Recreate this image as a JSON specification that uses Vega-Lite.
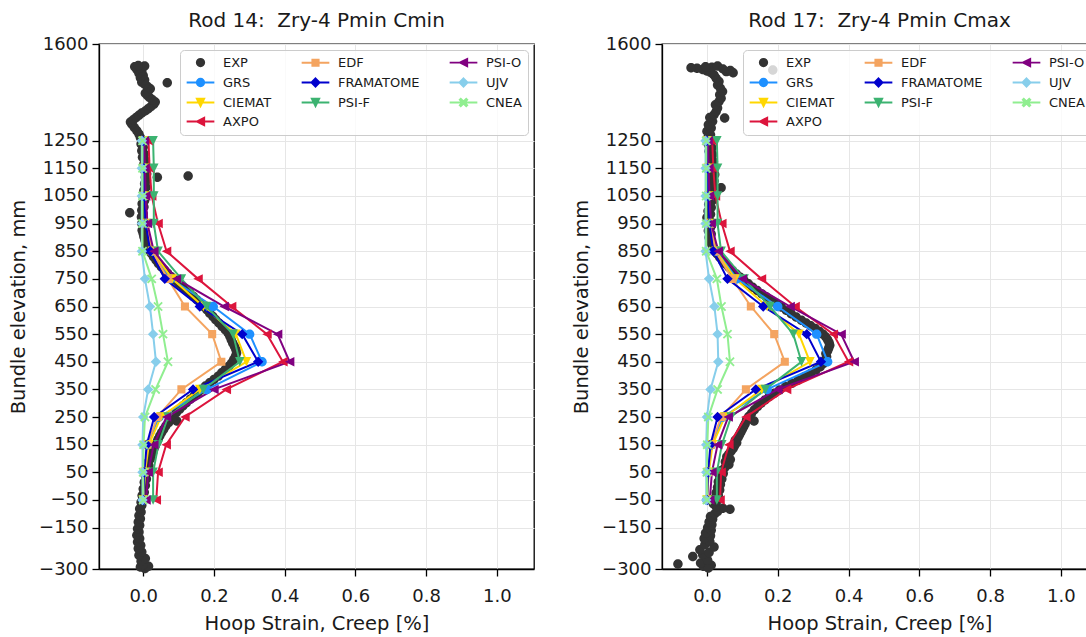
{
"$schema": "https://vega.github.io/schema/vega-lite/v6.json",
"background": "white",
"padding": {"left": 7, "top": 10, "right": 0, "bottom": 0},
"spacing": 35,
"datasets": {
"rod14_model": [
{"model":"GRS","elev":-50,"strain":0.0},{"model":"GRS","elev":50,"strain":0.004},{"model":"GRS","elev":150,"strain":0.012},{"model":"GRS","elev":250,"strain":0.045},{"model":"GRS","elev":350,"strain":0.18},{"model":"GRS","elev":450,"strain":0.336},{"model":"GRS","elev":550,"strain":0.301},{"model":"GRS","elev":650,"strain":0.198},{"model":"GRS","elev":750,"strain":0.078},{"model":"GRS","elev":850,"strain":0.025},{"model":"GRS","elev":950,"strain":0.008},{"model":"GRS","elev":1050,"strain":0.004},{"model":"GRS","elev":1150,"strain":0.002},{"model":"GRS","elev":1250,"strain":0.0},
{"model":"CIEMAT","elev":-50,"strain":0.0},{"model":"CIEMAT","elev":50,"strain":0.005},{"model":"CIEMAT","elev":150,"strain":0.016},{"model":"CIEMAT","elev":250,"strain":0.05},{"model":"CIEMAT","elev":350,"strain":0.16},{"model":"CIEMAT","elev":450,"strain":0.292},{"model":"CIEMAT","elev":550,"strain":0.262},{"model":"CIEMAT","elev":650,"strain":0.17},{"model":"CIEMAT","elev":750,"strain":0.082},{"model":"CIEMAT","elev":850,"strain":0.026},{"model":"CIEMAT","elev":950,"strain":0.01},{"model":"CIEMAT","elev":1050,"strain":0.005},{"model":"CIEMAT","elev":1150,"strain":0.003},{"model":"CIEMAT","elev":1250,"strain":0.001},
{"model":"AXPO","elev":-50,"strain":0.037},{"model":"AXPO","elev":50,"strain":0.042},{"model":"AXPO","elev":150,"strain":0.065},{"model":"AXPO","elev":250,"strain":0.118},{"model":"AXPO","elev":350,"strain":0.235},{"model":"AXPO","elev":450,"strain":0.395},{"model":"AXPO","elev":550,"strain":0.35},{"model":"AXPO","elev":650,"strain":0.25},{"model":"AXPO","elev":750,"strain":0.155},{"model":"AXPO","elev":850,"strain":0.066},{"model":"AXPO","elev":950,"strain":0.042},{"model":"AXPO","elev":1050,"strain":0.024},{"model":"AXPO","elev":1150,"strain":0.018},{"model":"AXPO","elev":1250,"strain":0.015},
{"model":"EDF","elev":-50,"strain":0.0},{"model":"EDF","elev":50,"strain":0.004},{"model":"EDF","elev":150,"strain":0.012},{"model":"EDF","elev":250,"strain":0.04},{"model":"EDF","elev":350,"strain":0.108},{"model":"EDF","elev":450,"strain":0.221},{"model":"EDF","elev":550,"strain":0.195},{"model":"EDF","elev":650,"strain":0.118},{"model":"EDF","elev":750,"strain":0.07},{"model":"EDF","elev":850,"strain":0.024},{"model":"EDF","elev":950,"strain":0.009},{"model":"EDF","elev":1050,"strain":0.004},{"model":"EDF","elev":1150,"strain":0.002},{"model":"EDF","elev":1250,"strain":0.0},
{"model":"FRAMATOME","elev":-50,"strain":0.0},{"model":"FRAMATOME","elev":50,"strain":0.003},{"model":"FRAMATOME","elev":150,"strain":0.01},{"model":"FRAMATOME","elev":250,"strain":0.031},{"model":"FRAMATOME","elev":350,"strain":0.141},{"model":"FRAMATOME","elev":450,"strain":0.325},{"model":"FRAMATOME","elev":550,"strain":0.28},{"model":"FRAMATOME","elev":650,"strain":0.16},{"model":"FRAMATOME","elev":750,"strain":0.061},{"model":"FRAMATOME","elev":850,"strain":0.02},{"model":"FRAMATOME","elev":950,"strain":0.007},{"model":"FRAMATOME","elev":1050,"strain":0.003},{"model":"FRAMATOME","elev":1150,"strain":0.002},{"model":"FRAMATOME","elev":1250,"strain":0.0},
{"model":"PSI-F","elev":-50,"strain":0.028},{"model":"PSI-F","elev":50,"strain":0.028},{"model":"PSI-F","elev":150,"strain":0.043},{"model":"PSI-F","elev":250,"strain":0.07},{"model":"PSI-F","elev":350,"strain":0.17},{"model":"PSI-F","elev":450,"strain":0.273},{"model":"PSI-F","elev":550,"strain":0.254},{"model":"PSI-F","elev":650,"strain":0.179},{"model":"PSI-F","elev":750,"strain":0.108},{"model":"PSI-F","elev":850,"strain":0.042},{"model":"PSI-F","elev":950,"strain":0.03},{"model":"PSI-F","elev":1050,"strain":0.03},{"model":"PSI-F","elev":1150,"strain":0.03},{"model":"PSI-F","elev":1250,"strain":0.028},
{"model":"PSI-O","elev":-50,"strain":0.008},{"model":"PSI-O","elev":50,"strain":0.014},{"model":"PSI-O","elev":150,"strain":0.03},{"model":"PSI-O","elev":250,"strain":0.066},{"model":"PSI-O","elev":350,"strain":0.2},{"model":"PSI-O","elev":450,"strain":0.414},{"model":"PSI-O","elev":550,"strain":0.38},{"model":"PSI-O","elev":650,"strain":0.229},{"model":"PSI-O","elev":750,"strain":0.094},{"model":"PSI-O","elev":850,"strain":0.03},{"model":"PSI-O","elev":950,"strain":0.012},{"model":"PSI-O","elev":1050,"strain":0.007},{"model":"PSI-O","elev":1150,"strain":0.005},{"model":"PSI-O","elev":1250,"strain":0.003},
{"model":"UJV","elev":-50,"strain":-0.002},{"model":"UJV","elev":50,"strain":-0.002},{"model":"UJV","elev":150,"strain":-0.002},{"model":"UJV","elev":250,"strain":0.0},{"model":"UJV","elev":350,"strain":0.014},{"model":"UJV","elev":450,"strain":0.036},{"model":"UJV","elev":550,"strain":0.028},{"model":"UJV","elev":650,"strain":0.019},{"model":"UJV","elev":750,"strain":0.005},{"model":"UJV","elev":850,"strain":-0.004},{"model":"UJV","elev":950,"strain":-0.004},{"model":"UJV","elev":1050,"strain":-0.004},{"model":"UJV","elev":1150,"strain":-0.004},{"model":"UJV","elev":1250,"strain":-0.004},
{"model":"CNEA","elev":-50,"strain":0.0},{"model":"CNEA","elev":50,"strain":0.0},{"model":"CNEA","elev":150,"strain":0.001},{"model":"CNEA","elev":250,"strain":0.005},{"model":"CNEA","elev":350,"strain":0.035},{"model":"CNEA","elev":450,"strain":0.07},{"model":"CNEA","elev":550,"strain":0.056},{"model":"CNEA","elev":650,"strain":0.042},{"model":"CNEA","elev":750,"strain":0.024},{"model":"CNEA","elev":850,"strain":-0.002},{"model":"CNEA","elev":950,"strain":-0.002},{"model":"CNEA","elev":1050,"strain":-0.002},{"model":"CNEA","elev":1150,"strain":-0.002},{"model":"CNEA","elev":1250,"strain":-0.002}
],
"rod17_model": [
{"model":"GRS","elev":-50,"strain":0.0},{"model":"GRS","elev":50,"strain":0.004},{"model":"GRS","elev":150,"strain":0.013},{"model":"GRS","elev":250,"strain":0.045},{"model":"GRS","elev":350,"strain":0.17},{"model":"GRS","elev":450,"strain":0.341},{"model":"GRS","elev":550,"strain":0.31},{"model":"GRS","elev":650,"strain":0.2},{"model":"GRS","elev":750,"strain":0.085},{"model":"GRS","elev":850,"strain":0.027},{"model":"GRS","elev":950,"strain":0.009},{"model":"GRS","elev":1050,"strain":0.004},{"model":"GRS","elev":1150,"strain":0.002},{"model":"GRS","elev":1250,"strain":0.0},
{"model":"CIEMAT","elev":-50,"strain":0.0},{"model":"CIEMAT","elev":50,"strain":0.005},{"model":"CIEMAT","elev":150,"strain":0.016},{"model":"CIEMAT","elev":250,"strain":0.05},{"model":"CIEMAT","elev":350,"strain":0.155},{"model":"CIEMAT","elev":450,"strain":0.291},{"model":"CIEMAT","elev":550,"strain":0.26},{"model":"CIEMAT","elev":650,"strain":0.17},{"model":"CIEMAT","elev":750,"strain":0.08},{"model":"CIEMAT","elev":850,"strain":0.026},{"model":"CIEMAT","elev":950,"strain":0.01},{"model":"CIEMAT","elev":1050,"strain":0.005},{"model":"CIEMAT","elev":1150,"strain":0.003},{"model":"CIEMAT","elev":1250,"strain":0.001},
{"model":"AXPO","elev":-50,"strain":0.037},{"model":"AXPO","elev":50,"strain":0.04},{"model":"AXPO","elev":150,"strain":0.062},{"model":"AXPO","elev":250,"strain":0.11},{"model":"AXPO","elev":350,"strain":0.225},{"model":"AXPO","elev":450,"strain":0.4},{"model":"AXPO","elev":550,"strain":0.357},{"model":"AXPO","elev":650,"strain":0.249},{"model":"AXPO","elev":750,"strain":0.154},{"model":"AXPO","elev":850,"strain":0.065},{"model":"AXPO","elev":950,"strain":0.042},{"model":"AXPO","elev":1050,"strain":0.024},{"model":"AXPO","elev":1150,"strain":0.018},{"model":"AXPO","elev":1250,"strain":0.015},
{"model":"EDF","elev":-50,"strain":0.0},{"model":"EDF","elev":50,"strain":0.004},{"model":"EDF","elev":150,"strain":0.012},{"model":"EDF","elev":250,"strain":0.04},{"model":"EDF","elev":350,"strain":0.11},{"model":"EDF","elev":450,"strain":0.22},{"model":"EDF","elev":550,"strain":0.19},{"model":"EDF","elev":650,"strain":0.124},{"model":"EDF","elev":750,"strain":0.072},{"model":"EDF","elev":850,"strain":0.024},{"model":"EDF","elev":950,"strain":0.009},{"model":"EDF","elev":1050,"strain":0.004},{"model":"EDF","elev":1150,"strain":0.002},{"model":"EDF","elev":1250,"strain":0.0},
{"model":"FRAMATOME","elev":-50,"strain":0.0},{"model":"FRAMATOME","elev":50,"strain":0.003},{"model":"FRAMATOME","elev":150,"strain":0.01},{"model":"FRAMATOME","elev":250,"strain":0.03},{"model":"FRAMATOME","elev":350,"strain":0.138},{"model":"FRAMATOME","elev":450,"strain":0.322},{"model":"FRAMATOME","elev":550,"strain":0.282},{"model":"FRAMATOME","elev":650,"strain":0.159},{"model":"FRAMATOME","elev":750,"strain":0.058},{"model":"FRAMATOME","elev":850,"strain":0.018},{"model":"FRAMATOME","elev":950,"strain":0.007},{"model":"FRAMATOME","elev":1050,"strain":0.003},{"model":"FRAMATOME","elev":1150,"strain":0.002},{"model":"FRAMATOME","elev":1250,"strain":0.0},
{"model":"PSI-F","elev":-50,"strain":0.028},{"model":"PSI-F","elev":50,"strain":0.028},{"model":"PSI-F","elev":150,"strain":0.042},{"model":"PSI-F","elev":250,"strain":0.068},{"model":"PSI-F","elev":350,"strain":0.165},{"model":"PSI-F","elev":450,"strain":0.267},{"model":"PSI-F","elev":550,"strain":0.244},{"model":"PSI-F","elev":650,"strain":0.178},{"model":"PSI-F","elev":750,"strain":0.105},{"model":"PSI-F","elev":850,"strain":0.04},{"model":"PSI-F","elev":950,"strain":0.03},{"model":"PSI-F","elev":1050,"strain":0.03},{"model":"PSI-F","elev":1150,"strain":0.03},{"model":"PSI-F","elev":1250,"strain":0.028},
{"model":"PSI-O","elev":-50,"strain":0.008},{"model":"PSI-O","elev":50,"strain":0.014},{"model":"PSI-O","elev":150,"strain":0.03},{"model":"PSI-O","elev":250,"strain":0.06},{"model":"PSI-O","elev":350,"strain":0.2},{"model":"PSI-O","elev":450,"strain":0.416},{"model":"PSI-O","elev":550,"strain":0.379},{"model":"PSI-O","elev":650,"strain":0.235},{"model":"PSI-O","elev":750,"strain":0.1},{"model":"PSI-O","elev":850,"strain":0.032},{"model":"PSI-O","elev":950,"strain":0.012},{"model":"PSI-O","elev":1050,"strain":0.007},{"model":"PSI-O","elev":1150,"strain":0.005},{"model":"PSI-O","elev":1250,"strain":0.003},
{"model":"UJV","elev":-50,"strain":-0.002},{"model":"UJV","elev":50,"strain":-0.002},{"model":"UJV","elev":150,"strain":-0.002},{"model":"UJV","elev":250,"strain":0.0},{"model":"UJV","elev":350,"strain":0.01},{"model":"UJV","elev":450,"strain":0.032},{"model":"UJV","elev":550,"strain":0.03},{"model":"UJV","elev":650,"strain":0.021},{"model":"UJV","elev":750,"strain":0.006},{"model":"UJV","elev":850,"strain":-0.004},{"model":"UJV","elev":950,"strain":-0.004},{"model":"UJV","elev":1050,"strain":-0.004},{"model":"UJV","elev":1150,"strain":-0.004},{"model":"UJV","elev":1250,"strain":-0.004},
{"model":"CNEA","elev":-50,"strain":0.0},{"model":"CNEA","elev":50,"strain":0.0},{"model":"CNEA","elev":150,"strain":0.001},{"model":"CNEA","elev":250,"strain":0.004},{"model":"CNEA","elev":350,"strain":0.03},{"model":"CNEA","elev":450,"strain":0.065},{"model":"CNEA","elev":550,"strain":0.058},{"model":"CNEA","elev":650,"strain":0.041},{"model":"CNEA","elev":750,"strain":0.028},{"model":"CNEA","elev":850,"strain":-0.002},{"model":"CNEA","elev":950,"strain":-0.002},{"model":"CNEA","elev":1050,"strain":-0.002},{"model":"CNEA","elev":1150,"strain":-0.002},{"model":"CNEA","elev":1250,"strain":-0.002}
],
"rod14_exp": [
{"model":"EXP","elev":-298,"strain":0.005},{"model":"EXP","elev":-293,"strain":-0.008},{"model":"EXP","elev":-290,"strain":0.015},{"model":"EXP","elev":-284,"strain":0.0},{"model":"EXP","elev":-272,"strain":-0.006},{"model":"EXP","elev":-262,"strain":0.006},{"model":"EXP","elev":-250,"strain":-0.012},{"model":"EXP","elev":-238,"strain":-0.004},{"model":"EXP","elev":-226,"strain":-0.014},{"model":"EXP","elev":-214,"strain":-0.007},{"model":"EXP","elev":-202,"strain":-0.016},{"model":"EXP","elev":-190,"strain":-0.01},{"model":"EXP","elev":-178,"strain":-0.018},{"model":"EXP","elev":-166,"strain":-0.012},{"model":"EXP","elev":-154,"strain":-0.016},{"model":"EXP","elev":-142,"strain":-0.01},{"model":"EXP","elev":-130,"strain":-0.014},{"model":"EXP","elev":-118,"strain":-0.008},{"model":"EXP","elev":-106,"strain":-0.012},{"model":"EXP","elev":-94,"strain":-0.006},{"model":"EXP","elev":-82,"strain":-0.01},{"model":"EXP","elev":-70,"strain":-0.004},{"model":"EXP","elev":-58,"strain":-0.006},{"model":"EXP","elev":-46,"strain":0.0},{"model":"EXP","elev":-34,"strain":-0.003},{"model":"EXP","elev":-22,"strain":0.003},{"model":"EXP","elev":-10,"strain":0.0},{"model":"EXP","elev":2,"strain":0.006},{"model":"EXP","elev":14,"strain":0.003},{"model":"EXP","elev":26,"strain":0.009},{"model":"EXP","elev":38,"strain":0.006},{"model":"EXP","elev":50,"strain":0.012},{"model":"EXP","elev":62,"strain":0.01},{"model":"EXP","elev":74,"strain":0.016},{"model":"EXP","elev":86,"strain":0.014},{"model":"EXP","elev":98,"strain":0.02},{"model":"EXP","elev":110,"strain":0.022},{"model":"EXP","elev":122,"strain":0.027},{"model":"EXP","elev":134,"strain":0.03},{"model":"EXP","elev":146,"strain":0.034},{"model":"EXP","elev":158,"strain":0.038},{"model":"EXP","elev":170,"strain":0.042},{"model":"EXP","elev":182,"strain":0.047},{"model":"EXP","elev":194,"strain":0.052},{"model":"EXP","elev":206,"strain":0.058},{"model":"EXP","elev":218,"strain":0.064},{"model":"EXP","elev":230,"strain":0.072},{"model":"EXP","elev":236,"strain":0.095},{"model":"EXP","elev":242,"strain":0.078},{"model":"EXP","elev":254,"strain":0.086},{"model":"EXP","elev":266,"strain":0.094},{"model":"EXP","elev":278,"strain":0.103},{"model":"EXP","elev":290,"strain":0.112},{"model":"EXP","elev":302,"strain":0.122},{"model":"EXP","elev":314,"strain":0.133},{"model":"EXP","elev":326,"strain":0.144},{"model":"EXP","elev":338,"strain":0.155},{"model":"EXP","elev":350,"strain":0.165},{"model":"EXP","elev":362,"strain":0.176},{"model":"EXP","elev":374,"strain":0.188},{"model":"EXP","elev":386,"strain":0.2},{"model":"EXP","elev":398,"strain":0.212},{"model":"EXP","elev":410,"strain":0.222},{"model":"EXP","elev":422,"strain":0.232},{"model":"EXP","elev":434,"strain":0.242},{"model":"EXP","elev":446,"strain":0.25},{"model":"EXP","elev":458,"strain":0.256},{"model":"EXP","elev":470,"strain":0.261},{"model":"EXP","elev":482,"strain":0.264},{"model":"EXP","elev":494,"strain":0.262},{"model":"EXP","elev":506,"strain":0.258},{"model":"EXP","elev":518,"strain":0.253},{"model":"EXP","elev":530,"strain":0.249},{"model":"EXP","elev":542,"strain":0.245},{"model":"EXP","elev":554,"strain":0.24},{"model":"EXP","elev":566,"strain":0.232},{"model":"EXP","elev":578,"strain":0.223},{"model":"EXP","elev":590,"strain":0.214},{"model":"EXP","elev":602,"strain":0.205},{"model":"EXP","elev":614,"strain":0.197},{"model":"EXP","elev":626,"strain":0.188},{"model":"EXP","elev":638,"strain":0.18},{"model":"EXP","elev":650,"strain":0.171},{"model":"EXP","elev":662,"strain":0.162},{"model":"EXP","elev":674,"strain":0.152},{"model":"EXP","elev":686,"strain":0.142},{"model":"EXP","elev":698,"strain":0.132},{"model":"EXP","elev":710,"strain":0.122},{"model":"EXP","elev":722,"strain":0.111},{"model":"EXP","elev":734,"strain":0.1},{"model":"EXP","elev":746,"strain":0.089},{"model":"EXP","elev":758,"strain":0.079},{"model":"EXP","elev":770,"strain":0.069},{"model":"EXP","elev":782,"strain":0.06},{"model":"EXP","elev":794,"strain":0.051},{"model":"EXP","elev":806,"strain":0.043},{"model":"EXP","elev":818,"strain":0.036},{"model":"EXP","elev":830,"strain":0.029},{"model":"EXP","elev":842,"strain":0.023},{"model":"EXP","elev":854,"strain":0.017},{"model":"EXP","elev":866,"strain":0.012},{"model":"EXP","elev":878,"strain":0.008},{"model":"EXP","elev":890,"strain":0.005},{"model":"EXP","elev":902,"strain":0.002},{"model":"EXP","elev":914,"strain":0.0},{"model":"EXP","elev":926,"strain":-0.003},{"model":"EXP","elev":938,"strain":0.001},{"model":"EXP","elev":950,"strain":-0.004},{"model":"EXP","elev":962,"strain":0.0},{"model":"EXP","elev":974,"strain":-0.005},{"model":"EXP","elev":989,"strain":-0.038},{"model":"EXP","elev":986,"strain":0.0},{"model":"EXP","elev":998,"strain":-0.004},{"model":"EXP","elev":1010,"strain":0.002},{"model":"EXP","elev":1022,"strain":-0.003},{"model":"EXP","elev":1034,"strain":0.004},{"model":"EXP","elev":1046,"strain":0.0},{"model":"EXP","elev":1058,"strain":0.006},{"model":"EXP","elev":1070,"strain":0.002},{"model":"EXP","elev":1082,"strain":0.008},{"model":"EXP","elev":1094,"strain":0.004},{"model":"EXP","elev":1106,"strain":0.009},{"model":"EXP","elev":1118,"strain":0.04},{"model":"EXP","elev":1122,"strain":0.127},{"model":"EXP","elev":1118,"strain":0.006},{"model":"EXP","elev":1130,"strain":0.01},{"model":"EXP","elev":1142,"strain":0.004},{"model":"EXP","elev":1154,"strain":0.008},{"model":"EXP","elev":1166,"strain":0.002},{"model":"EXP","elev":1178,"strain":0.006},{"model":"EXP","elev":1190,"strain":-0.002},{"model":"EXP","elev":1202,"strain":0.003},{"model":"EXP","elev":1214,"strain":-0.004},{"model":"EXP","elev":1226,"strain":0.0},{"model":"EXP","elev":1238,"strain":-0.006},{"model":"EXP","elev":1250,"strain":-0.002},{"model":"EXP","elev":1262,"strain":-0.008},{"model":"EXP","elev":1274,"strain":-0.012},{"model":"EXP","elev":1286,"strain":-0.018},{"model":"EXP","elev":1298,"strain":-0.025},{"model":"EXP","elev":1310,"strain":-0.032},{"model":"EXP","elev":1318,"strain":-0.036},{"model":"EXP","elev":1326,"strain":-0.028},{"model":"EXP","elev":1334,"strain":-0.02},{"model":"EXP","elev":1342,"strain":-0.012},{"model":"EXP","elev":1350,"strain":-0.004},{"model":"EXP","elev":1358,"strain":0.006},{"model":"EXP","elev":1366,"strain":0.014},{"model":"EXP","elev":1374,"strain":0.022},{"model":"EXP","elev":1382,"strain":0.03},{"model":"EXP","elev":1390,"strain":0.034},{"model":"EXP","elev":1398,"strain":0.026},{"model":"EXP","elev":1406,"strain":0.018},{"model":"EXP","elev":1414,"strain":0.012},{"model":"EXP","elev":1422,"strain":0.006},{"model":"EXP","elev":1430,"strain":0.014},{"model":"EXP","elev":1438,"strain":0.02},{"model":"EXP","elev":1446,"strain":0.012},{"model":"EXP","elev":1454,"strain":0.004},{"model":"EXP","elev":1460,"strain":0.068},{"model":"EXP","elev":1462,"strain":-0.004},{"model":"EXP","elev":1470,"strain":0.004},{"model":"EXP","elev":1478,"strain":-0.008},{"model":"EXP","elev":1486,"strain":0.0},{"model":"EXP","elev":1494,"strain":-0.012},{"model":"EXP","elev":1502,"strain":-0.004},{"model":"EXP","elev":1508,"strain":-0.018},{"model":"EXP","elev":1514,"strain":-0.008},{"model":"EXP","elev":1518,"strain":-0.024},{"model":"EXP","elev":1520,"strain":0.004},{"model":"EXP","elev":1522,"strain":-0.014}
],
"rod17_exp": [
{"model":"EXP","elev":-290,"strain":-0.01},{"model":"EXP","elev":-286,"strain":0.012},{"model":"EXP","elev":-282,"strain":-0.082},{"model":"EXP","elev":-296,"strain":0.004},{"model":"EXP","elev":-278,"strain":-0.018},{"model":"EXP","elev":-268,"strain":0.002},{"model":"EXP","elev":-255,"strain":-0.04},{"model":"EXP","elev":-248,"strain":-0.012},{"model":"EXP","elev":-240,"strain":0.006},{"model":"EXP","elev":-230,"strain":-0.02},{"model":"EXP","elev":-220,"strain":0.02},{"model":"EXP","elev":-212,"strain":-0.006},{"model":"EXP","elev":-200,"strain":0.008},{"model":"EXP","elev":-190,"strain":-0.008},{"model":"EXP","elev":-180,"strain":0.01},{"model":"EXP","elev":-170,"strain":-0.004},{"model":"EXP","elev":-160,"strain":0.012},{"model":"EXP","elev":-150,"strain":0.002},{"model":"EXP","elev":-140,"strain":0.014},{"model":"EXP","elev":-130,"strain":0.006},{"model":"EXP","elev":-120,"strain":0.016},{"model":"EXP","elev":-110,"strain":0.01},{"model":"EXP","elev":-100,"strain":0.022},{"model":"EXP","elev":-92,"strain":0.03},{"model":"EXP","elev":-84,"strain":0.065},{"model":"EXP","elev":-80,"strain":0.045},{"model":"EXP","elev":-74,"strain":0.026},{"model":"EXP","elev":-64,"strain":0.018},{"model":"EXP","elev":-54,"strain":0.028},{"model":"EXP","elev":-44,"strain":0.022},{"model":"EXP","elev":-34,"strain":0.032},{"model":"EXP","elev":-24,"strain":0.026},{"model":"EXP","elev":-14,"strain":0.036},{"model":"EXP","elev":-4,"strain":0.03},{"model":"EXP","elev":6,"strain":0.038},{"model":"EXP","elev":16,"strain":0.032},{"model":"EXP","elev":26,"strain":0.042},{"model":"EXP","elev":36,"strain":0.036},{"model":"EXP","elev":46,"strain":0.046},{"model":"EXP","elev":56,"strain":0.04},{"model":"EXP","elev":66,"strain":0.05},{"model":"EXP","elev":78,"strain":0.062},{"model":"EXP","elev":88,"strain":0.052},{"model":"EXP","elev":96,"strain":0.066},{"model":"EXP","elev":106,"strain":0.056},{"model":"EXP","elev":116,"strain":0.062},{"model":"EXP","elev":126,"strain":0.068},{"model":"EXP","elev":136,"strain":0.074},{"model":"EXP","elev":146,"strain":0.078},{"model":"EXP","elev":157,"strain":0.084},{"model":"EXP","elev":166,"strain":0.08},{"model":"EXP","elev":176,"strain":0.088},{"model":"EXP","elev":186,"strain":0.092},{"model":"EXP","elev":196,"strain":0.096},{"model":"EXP","elev":206,"strain":0.1},{"model":"EXP","elev":216,"strain":0.104},{"model":"EXP","elev":226,"strain":0.108},{"model":"EXP","elev":236,"strain":0.133},{"model":"EXP","elev":240,"strain":0.112},{"model":"EXP","elev":252,"strain":0.118},{"model":"EXP","elev":264,"strain":0.126},{"model":"EXP","elev":276,"strain":0.134},{"model":"EXP","elev":288,"strain":0.143},{"model":"EXP","elev":300,"strain":0.153},{"model":"EXP","elev":312,"strain":0.164},{"model":"EXP","elev":324,"strain":0.176},{"model":"EXP","elev":336,"strain":0.19},{"model":"EXP","elev":348,"strain":0.205},{"model":"EXP","elev":360,"strain":0.222},{"model":"EXP","elev":372,"strain":0.24},{"model":"EXP","elev":384,"strain":0.258},{"model":"EXP","elev":396,"strain":0.276},{"model":"EXP","elev":408,"strain":0.293},{"model":"EXP","elev":420,"strain":0.308},{"model":"EXP","elev":432,"strain":0.32},{"model":"EXP","elev":444,"strain":0.329},{"model":"EXP","elev":456,"strain":0.335},{"model":"EXP","elev":468,"strain":0.338},{"model":"EXP","elev":480,"strain":0.336},{"model":"EXP","elev":490,"strain":0.341},{"model":"EXP","elev":500,"strain":0.344},{"model":"EXP","elev":510,"strain":0.347},{"model":"EXP","elev":520,"strain":0.345},{"model":"EXP","elev":530,"strain":0.341},{"model":"EXP","elev":540,"strain":0.336},{"model":"EXP","elev":550,"strain":0.328},{"model":"EXP","elev":560,"strain":0.318},{"model":"EXP","elev":570,"strain":0.306},{"model":"EXP","elev":580,"strain":0.293},{"model":"EXP","elev":590,"strain":0.28},{"model":"EXP","elev":600,"strain":0.267},{"model":"EXP","elev":612,"strain":0.252},{"model":"EXP","elev":624,"strain":0.238},{"model":"EXP","elev":636,"strain":0.224},{"model":"EXP","elev":648,"strain":0.21},{"model":"EXP","elev":660,"strain":0.196},{"model":"EXP","elev":672,"strain":0.182},{"model":"EXP","elev":684,"strain":0.168},{"model":"EXP","elev":696,"strain":0.155},{"model":"EXP","elev":708,"strain":0.142},{"model":"EXP","elev":720,"strain":0.129},{"model":"EXP","elev":732,"strain":0.117},{"model":"EXP","elev":744,"strain":0.105},{"model":"EXP","elev":756,"strain":0.094},{"model":"EXP","elev":768,"strain":0.083},{"model":"EXP","elev":780,"strain":0.072},{"model":"EXP","elev":792,"strain":0.062},{"model":"EXP","elev":804,"strain":0.053},{"model":"EXP","elev":816,"strain":0.044},{"model":"EXP","elev":828,"strain":0.036},{"model":"EXP","elev":840,"strain":0.029},{"model":"EXP","elev":852,"strain":0.023},{"model":"EXP","elev":864,"strain":0.018},{"model":"EXP","elev":876,"strain":0.013},{"model":"EXP","elev":888,"strain":0.01},{"model":"EXP","elev":900,"strain":0.006},{"model":"EXP","elev":912,"strain":0.012},{"model":"EXP","elev":924,"strain":0.004},{"model":"EXP","elev":936,"strain":0.01},{"model":"EXP","elev":948,"strain":0.002},{"model":"EXP","elev":960,"strain":0.008},{"model":"EXP","elev":972,"strain":0.0},{"model":"EXP","elev":984,"strain":0.01},{"model":"EXP","elev":996,"strain":0.003},{"model":"EXP","elev":1008,"strain":0.012},{"model":"EXP","elev":1020,"strain":0.005},{"model":"EXP","elev":1032,"strain":0.014},{"model":"EXP","elev":1044,"strain":0.007},{"model":"EXP","elev":1056,"strain":0.016},{"model":"EXP","elev":1068,"strain":0.009},{"model":"EXP","elev":1080,"strain":0.04},{"model":"EXP","elev":1082,"strain":0.018},{"model":"EXP","elev":1092,"strain":0.01},{"model":"EXP","elev":1104,"strain":0.02},{"model":"EXP","elev":1116,"strain":0.012},{"model":"EXP","elev":1128,"strain":0.022},{"model":"EXP","elev":1140,"strain":0.014},{"model":"EXP","elev":1152,"strain":0.02},{"model":"EXP","elev":1164,"strain":0.01},{"model":"EXP","elev":1176,"strain":0.018},{"model":"EXP","elev":1188,"strain":0.008},{"model":"EXP","elev":1200,"strain":0.016},{"model":"EXP","elev":1212,"strain":0.006},{"model":"EXP","elev":1224,"strain":0.014},{"model":"EXP","elev":1236,"strain":0.004},{"model":"EXP","elev":1248,"strain":0.012},{"model":"EXP","elev":1260,"strain":0.002},{"model":"EXP","elev":1272,"strain":0.01},{"model":"EXP","elev":1284,"strain":0.0},{"model":"EXP","elev":1296,"strain":0.012},{"model":"EXP","elev":1308,"strain":0.004},{"model":"EXP","elev":1320,"strain":0.016},{"model":"EXP","elev":1332,"strain":0.05},{"model":"EXP","elev":1334,"strain":0.008},{"model":"EXP","elev":1344,"strain":0.02},{"model":"EXP","elev":1356,"strain":0.026},{"model":"EXP","elev":1368,"strain":0.03},{"model":"EXP","elev":1380,"strain":0.024},{"model":"EXP","elev":1392,"strain":0.034},{"model":"EXP","elev":1404,"strain":0.04},{"model":"EXP","elev":1416,"strain":0.036},{"model":"EXP","elev":1428,"strain":0.044},{"model":"EXP","elev":1440,"strain":0.038},{"model":"EXP","elev":1452,"strain":0.03},{"model":"EXP","elev":1464,"strain":0.034},{"model":"EXP","elev":1476,"strain":0.026},{"model":"EXP","elev":1488,"strain":0.02},{"model":"EXP","elev":1496,"strain":0.012},{"model":"EXP","elev":1502,"strain":0.0},{"model":"EXP","elev":1508,"strain":-0.012},{"model":"EXP","elev":1512,"strain":-0.028},{"model":"EXP","elev":1514,"strain":-0.045},{"model":"EXP","elev":1506,"strain":0.186},{"model":"EXP","elev":1500,"strain":0.055},{"model":"EXP","elev":1504,"strain":0.066},{"model":"EXP","elev":1496,"strain":0.074},{"model":"EXP","elev":1516,"strain":0.014},{"model":"EXP","elev":1518,"strain":-0.004},{"model":"EXP","elev":1520,"strain":0.03},{"model":"EXP","elev":1510,"strain":0.045}
]
},
"resolve": {
  "scale": {"color": "independent", "shape": "independent", "stroke": "independent"},
  "legend": {"color": "independent", "shape": "independent", "stroke": "independent"}
},
"hconcat": [
{
  "width": 435, "height": 525,
  "title": "Rod 14: \u00a0Zry-4 Pmin Cmin",
  "encoding": {
    "x": {"field": "strain", "type": "quantitative", "title": "Hoop Strain, Creep [%]", "scale": {"domain": [-0.125, 1.105], "nice": false, "zero": false}, "axis": {"values": [0, 0.2, 0.4, 0.6, 0.8, 1.0], "format": ".1f"}},
    "y": {"field": "elev", "type": "quantitative", "title": "Bundle elevation, mm", "scale": {"domain": [-300, 1600], "nice": false, "zero": false}, "axis": {"values": [-300, -150, -50, 50, 150, 250, 350, 450, 550, 650, 750, 850, 950, 1050, 1150, 1250, 1600], "format": "d"}}
  },
  "layer": [
    {"data": {"name": "rod14_exp"}, "mark": {"type": "point", "filled": true, "size": 90, "opacity": 1, "strokeWidth": 0},
     "encoding": {
       "color": {"field": "model", "type": "nominal", "legend": {"title": null, "encode": {"symbols": {"update": {"strokeWidth": {"value": 1.8}}}}}, "scale": {"domain": ["EXP","GRS","CIEMAT","CNEA","EDF","FRAMATOME","PSI-F","AXPO","PSI-O","UJV"], "range": ["#333333","#1e90ff","#ffd700","#90ee90","#f4a460","#0000cd","#3cb371","#dc143c","#800080","#87ceeb"]}},
       "shape": {"field": "model", "type": "nominal", "legend": {"title": null, "encode": {"symbols": {"update": {"strokeWidth": {"value": 1.8}}}}}, "scale": {"domain": ["EXP","GRS","CIEMAT","CNEA","EDF","FRAMATOME","PSI-F","AXPO","PSI-O","UJV"], "range": ["M1,0A1,1,0,1,1,-1,0A1,1,0,1,1,1,0Z","M-3.7,0H3.7M1,0A1,1,0,1,1,-1,0A1,1,0,1,1,1,0Z","M-3.7,0H3.7M0,1L1,-1L-1,-1Z","M-3.7,0H3.7M0,-0.27L0.73,-1L1,-0.73L0.27,0L1,0.73L0.73,1L0,0.27L-0.73,1L-1,0.73L-0.27,0L-1,-0.73L-0.73,-1Z","M-3.7,0H3.7M-0.85,-0.85H0.85V0.85H-0.85Z","M-3.7,0H3.7M0,-1.1L1.1,0L0,1.1L-1.1,0Z","M-3.7,0H3.7M0,1L1,-1L-1,-1Z","M-3.7,0H3.7M-1,0L1,-1L1,1Z","M-3.7,0H3.7M-1,0L1,-1L1,1Z","M-3.7,0H3.7M0,-1.1L1.1,0L0,1.1L-1.1,0Z"]}}
     }},
    {"data": {"name": "rod14_model"}, "mark": {"type": "line", "strokeWidth": 2},
     "encoding": {
       "order": {"field": "elev", "type": "quantitative"},
       "color": {"field": "model", "type": "nominal", "legend": {"title": null, "encode": {"symbols": {"update": {"strokeWidth": {"value": 1.8}}}}}}
     }},
    {"data": {"name": "rod14_model"}, "mark": {"type": "point", "filled": true, "size": 90, "opacity": 1, "strokeWidth": 0},
     "encoding": {
       "color": {"field": "model", "type": "nominal", "legend": {"title": null, "encode": {"symbols": {"update": {"strokeWidth": {"value": 1.8}}}}}},
       "shape": {"field": "model", "type": "nominal", "legend": {"title": null, "encode": {"symbols": {"update": {"strokeWidth": {"value": 1.8}}}}}},
       "stroke": {"field": "model", "type": "nominal", "legend": {"title": null, "encode": {"symbols": {"update": {"strokeWidth": {"value": 1.8}}}}}, "scale": {"domain": ["EXP","GRS","CIEMAT","CNEA","EDF","FRAMATOME","PSI-F","AXPO","PSI-O","UJV"], "range": ["#333333","#1e90ff","#ffd700","#90ee90","#f4a460","#0000cd","#3cb371","#dc143c","#800080","#87ceeb"]}}
     }}
  ]
},
{
  "width": 435, "height": 525,
  "title": "Rod 17: \u00a0Zry-4 Pmin Cmax",
  "encoding": {
    "x": {"field": "strain", "type": "quantitative", "title": "Hoop Strain, Creep [%]", "scale": {"domain": [-0.127, 1.102], "nice": false, "zero": false}, "axis": {"values": [0, 0.2, 0.4, 0.6, 0.8, 1.0], "format": ".1f"}},
    "y": {"field": "elev", "type": "quantitative", "title": "Bundle elevation, mm", "scale": {"domain": [-300, 1600], "nice": false, "zero": false}, "axis": {"values": [-300, -150, -50, 50, 150, 250, 350, 450, 550, 650, 750, 850, 950, 1050, 1150, 1250, 1600], "format": "d"}}
  },
  "layer": [
    {"data": {"name": "rod17_exp"}, "mark": {"type": "point", "filled": true, "size": 90, "opacity": 1, "strokeWidth": 0},
     "encoding": {
       "color": {"field": "model", "type": "nominal", "legend": {"title": null, "encode": {"symbols": {"update": {"strokeWidth": {"value": 1.8}}}}}, "scale": {"domain": ["EXP","GRS","CIEMAT","CNEA","EDF","FRAMATOME","PSI-F","AXPO","PSI-O","UJV"], "range": ["#333333","#1e90ff","#ffd700","#90ee90","#f4a460","#0000cd","#3cb371","#dc143c","#800080","#87ceeb"]}},
       "shape": {"field": "model", "type": "nominal", "legend": {"title": null, "encode": {"symbols": {"update": {"strokeWidth": {"value": 1.8}}}}}, "scale": {"domain": ["EXP","GRS","CIEMAT","CNEA","EDF","FRAMATOME","PSI-F","AXPO","PSI-O","UJV"], "range": ["M1,0A1,1,0,1,1,-1,0A1,1,0,1,1,1,0Z","M-3.7,0H3.7M1,0A1,1,0,1,1,-1,0A1,1,0,1,1,1,0Z","M-3.7,0H3.7M0,1L1,-1L-1,-1Z","M-3.7,0H3.7M0,-0.27L0.73,-1L1,-0.73L0.27,0L1,0.73L0.73,1L0,0.27L-0.73,1L-1,0.73L-0.27,0L-1,-0.73L-0.73,-1Z","M-3.7,0H3.7M-0.85,-0.85H0.85V0.85H-0.85Z","M-3.7,0H3.7M0,-1.1L1.1,0L0,1.1L-1.1,0Z","M-3.7,0H3.7M0,1L1,-1L-1,-1Z","M-3.7,0H3.7M-1,0L1,-1L1,1Z","M-3.7,0H3.7M-1,0L1,-1L1,1Z","M-3.7,0H3.7M0,-1.1L1.1,0L0,1.1L-1.1,0Z"]}}
     }},
    {"data": {"name": "rod17_model"}, "mark": {"type": "line", "strokeWidth": 2},
     "encoding": {
       "order": {"field": "elev", "type": "quantitative"},
       "color": {"field": "model", "type": "nominal", "legend": {"title": null, "encode": {"symbols": {"update": {"strokeWidth": {"value": 1.8}}}}}}
     }},
    {"data": {"name": "rod17_model"}, "mark": {"type": "point", "filled": true, "size": 90, "opacity": 1, "strokeWidth": 0},
     "encoding": {
       "color": {"field": "model", "type": "nominal", "legend": {"title": null, "encode": {"symbols": {"update": {"strokeWidth": {"value": 1.8}}}}}},
       "shape": {"field": "model", "type": "nominal", "legend": {"title": null, "encode": {"symbols": {"update": {"strokeWidth": {"value": 1.8}}}}}},
       "stroke": {"field": "model", "type": "nominal", "legend": {"title": null, "encode": {"symbols": {"update": {"strokeWidth": {"value": 1.8}}}}}, "scale": {"domain": ["EXP","GRS","CIEMAT","CNEA","EDF","FRAMATOME","PSI-F","AXPO","PSI-O","UJV"], "range": ["#333333","#1e90ff","#ffd700","#90ee90","#f4a460","#0000cd","#3cb371","#dc143c","#800080","#87ceeb"]}}
     }}
  ]
}
],
"config": {
  "font": "DejaVu Sans",
  "view": {"stroke": "black", "strokeWidth": 1.3, "fill": "white"},
  "axis": {
    "domainColor": "black", "domainWidth": 1.3, "tickColor": "black", "tickWidth": 1.3, "tickSize": 7,
    "labelFont": "DejaVu Sans", "labelFontSize": 18, "labelColor": "#1a1a1a", "labelFlush": false, "labelOverlap": false, "labelBound": false,
    "titleFont": "DejaVu Sans", "titleFontSize": 19.5, "titleFontWeight": "normal", "titleColor": "#1a1a1a",
    "gridColor": "#e6e6e6", "gridWidth": 1
  },
  "axisX": {"labelPadding": 11, "titlePadding": 9},
  "axisY": {"labelPadding": 4, "titlePadding": 10},
  "title": {"font": "DejaVu Sans", "fontSize": 20, "fontWeight": "normal", "color": "#1a1a1a", "offset": 4, "anchor": "middle"},
  "legend": {
    "orient": "top-right", "columns": 3, "offset": 6, "padding": 6,
    "fillColor": "rgba(255,255,255,0.8)", "strokeColor": "#cccccc", "cornerRadius": 4,
    "labelFont": "DejaVu Sans", "labelFontSize": 13, "labelColor": "#1a1a1a", "labelLimit": 300,
    "symbolSize": 56, "symbolOffset": 8, "labelOffset": 16, "rowPadding": 4, "columnPadding": 26, "symbolStrokeWidth": 1.8
  }
}
}
